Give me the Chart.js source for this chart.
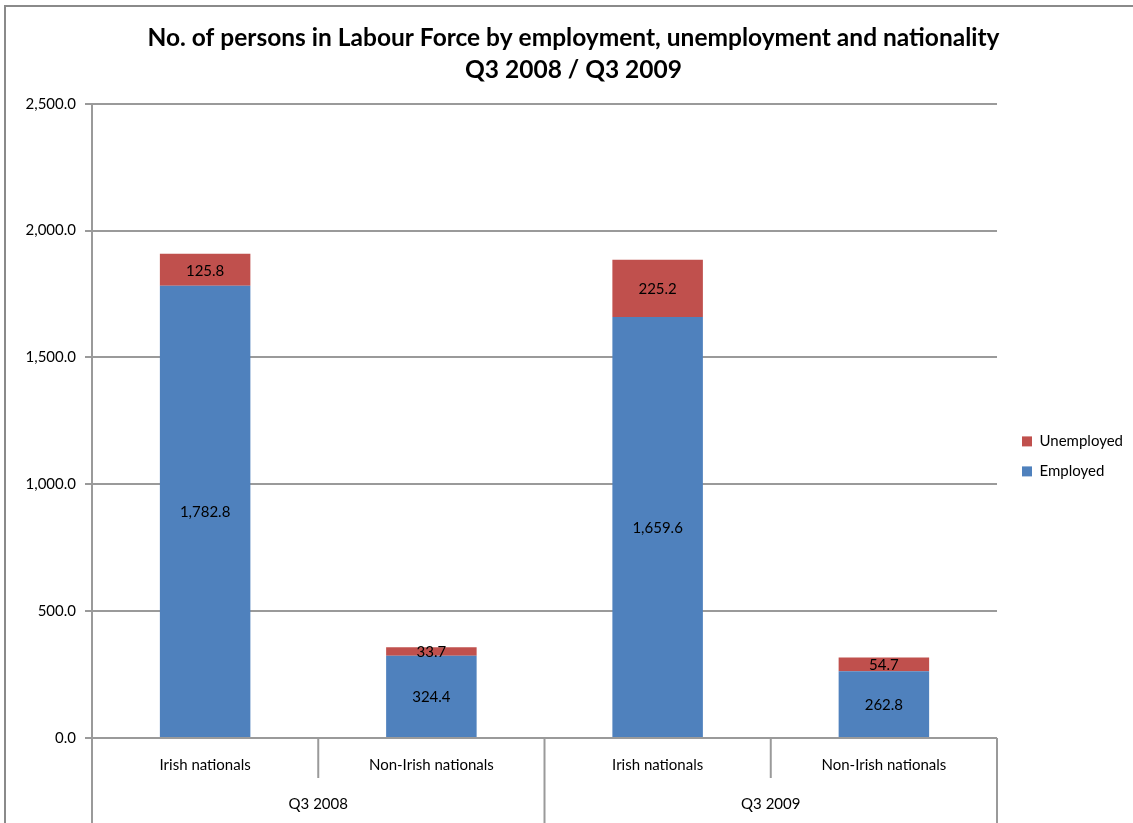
<!DOCTYPE html>
<html>
<head>
<meta charset="utf-8">
<script src="https://cdn.jsdelivr.net/npm/chart.js@4/dist/chart.umd.min.js"></script>
<style>
  body { margin: 0; background: #fff; }
  #wrap { position: relative; width: 1133px; height: 823px; overflow: hidden; }
  #frame { position: absolute; left: 4px; top: 5px; width: 1300px; height: 1000px; border-top: 2px solid #8a8a8a; border-left: 2px solid #8a8a8a; }
  canvas { position: absolute; left: 0; top: 0; }
</style>
</head>
<body>
<div id="wrap">
  <div id="frame"></div>
  <canvas id="myChart" width="1133" height="823"></canvas>
</div>
<script>
// chart data
const categories = ['Irish nationals', 'Non-Irish nationals', 'Irish nationals', 'Non-Irish nationals'];
const groups = ['Q3 2008', 'Q3 2009'];
const employed = [1782.8, 324.4, 1659.6, 262.8];
const unemployed = [125.8, 33.7, 225.2, 54.7];
const yMax = 2500;
const yStep = 500;

const FONT = "Lato, 'Open Sans', sans-serif";
const GRID = '#9a9a9a';

function fmt(v) {
  return v.toLocaleString('en-US', { minimumFractionDigits: 1, maximumFractionDigits: 1 });
}

// value labels in the middle of each segment
const barLabels = {
  id: 'barLabels',
  afterDatasetsDraw(chart) {
    const ctx = chart.ctx;
    ctx.save();
    ctx.font = '15px ' + FONT;
    ctx.fillStyle = '#000';
    ctx.textAlign = 'center';
    ctx.textBaseline = 'middle';
    chart.data.datasets.forEach((ds, di) => {
      chart.getDatasetMeta(di).data.forEach((bar, i) => {
        const mid = (bar.y + bar.base) / 2;
        ctx.fillText(fmt(ds.data[i]), bar.x, mid + 1);
      });
    });
    ctx.restore();
  }
};

// two-level category axis under the plot
const groupAxis = {
  id: 'groupAxis',
  afterDraw(chart) {
    const ctx = chart.ctx;
    const x = chart.scales.x;
    const area = chart.chartArea;
    const half = (x.getPixelForValue(1) - x.getPixelForValue(0)) / 2;
    ctx.save();
    ctx.strokeStyle = GRID;
    ctx.lineWidth = 2;
    // vertical separators
    for (let i = 0; i <= categories.length; i++) {
      const px = i < categories.length ? x.getPixelForValue(i) - half : x.getPixelForValue(i - 1) + half;
      const isGroup = i % 2 === 0;
      ctx.beginPath();
      ctx.moveTo(px, area.bottom);
      ctx.lineTo(px, isGroup ? chart.height : area.bottom + 40);
      ctx.stroke();
    }
    ctx.font = '15px ' + FONT;
    ctx.fillStyle = '#000';
    ctx.textAlign = 'center';
    ctx.textBaseline = 'middle';
    categories.forEach((c, i) => {
      ctx.fillText(c, x.getPixelForValue(i), area.bottom + 27);
    });
    groups.forEach((g, gi) => {
      const cx = (x.getPixelForValue(gi * 2) + x.getPixelForValue(gi * 2 + 1)) / 2;
      ctx.fillText(g, cx, area.bottom + 66);
    });
    ctx.restore();
  }
};

// nudge the legend a little away from the plot
const legendShift = {
  id: 'legendShift',
  afterLayout(chart) {
    if (chart.legend) {
      chart.legend.left += 10;
      chart.legend.right += 10;
    }
  }
};

const ctx = document.getElementById('myChart').getContext('2d');
const myChart = new Chart(ctx, {
  type: 'bar',
  data: {
    labels: categories,
    datasets: [
      { label: 'Employed', data: employed, backgroundColor: '#4f81bd', barPercentage: 0.4, categoryPercentage: 1 },
      { label: 'Unemployed', data: unemployed, backgroundColor: '#c0504d', barPercentage: 0.4, categoryPercentage: 1 }
    ]
  },
  options: {
    responsive: false,
    animation: false,
    layout: { padding: { left: 24, right: 10, top: 0, bottom: 0 } },
    plugins: {
      tooltip: { enabled: false },
      title: {
        display: true,
        text: ['No. of persons in Labour Force by employment, unemployment and nationality', 'Q3 2008 / Q3 2009'],
        color: '#000',
        font: { family: FONT, size: 24.5, weight: 'bold', lineHeight: 1.3 },
        padding: { top: 22, bottom: 18 }
      },
      legend: {
        position: 'right',
        reverse: true,
        title: { display: true, text: ' ', padding: { top: 73, bottom: 0 }, font: { size: 14 } },
        labels: {
          boxWidth: 10,
          boxHeight: 10,
          padding: 15,
          color: '#000',
          font: { family: FONT, size: 15 }
        }
      }
    },
    scales: {
      x: {
        stacked: true,
        grid: { display: false },
        border: { display: false },
        ticks: { display: false },
        afterFit(scale) { scale.height = 85; }
      },
      y: {
        stacked: true,
        min: 0,
        max: yMax,
        ticks: {
          stepSize: yStep,
          color: '#000',
          font: { family: FONT, size: 15 },
          padding: 9,
          callback: (v) => fmt(v)
        },
        grid: { color: GRID, lineWidth: 2, tickLength: 7 },
        border: { color: GRID, width: 2 },
        afterFit(scale) { scale.width = 68; }
      }
    }
  },
  plugins: [barLabels, groupAxis, legendShift]
});
</script>
</body>
</html>
